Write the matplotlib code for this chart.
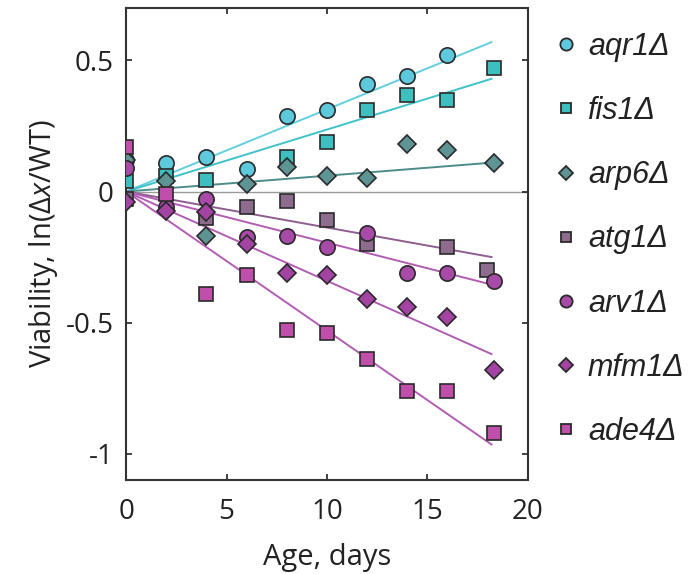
import matplotlib
matplotlib.use('Agg')
import matplotlib.pyplot as plt

plt.rcParams['font.family'] = ['Open Sans', 'DejaVu Sans']
plt.rcParams['axes.unicode_minus'] = False
plt.rcParams['mathtext.fontset'] = 'custom'
plt.rcParams['mathtext.it'] = 'Open Sans:italic'
plt.rcParams['mathtext.rm'] = 'Open Sans'

# strains
names = ['aqr1', 'fis1', 'arp6', 'atg1', 'arv1', 'mfm1', 'ade4']
markers = ['o', 's', 'D', 's', 'o', 'D', 's']
face = ['#5ec9dd', '#3dbfc0', '#5e9494', '#8d6c8e', '#a84aa8', '#a443a3', '#c04fab']
linecol = ['#62cfe0', '#40c2c8', '#4c8c8a', '#8e5e8e', '#b25db3', '#b25db3', '#b25db3']

days_aqr1 = [0, 2, 4, 6, 8, 10, 12, 14, 16]
v_aqr1 = [0.12, 0.11, 0.13, 0.085, 0.29, 0.31, 0.41, 0.44, 0.52]
days_fis1 = [0, 2, 4, 8, 10, 12, 14, 16, 18.3]
v_fis1 = [0.04, 0.06, 0.045, 0.13, 0.19, 0.31, 0.37, 0.35, 0.47]
days_arp6 = [0, 2, 4, 6, 8, 10, 12, 14, 16, 18.3]
v_arp6 = [0.12, 0.04, -0.17, 0.03, 0.095, 0.06, 0.05, 0.18, 0.16, 0.11]
days_atg1 = [0, 4, 6, 8, 10, 12, 16, 18]
v_atg1 = [-0.03, -0.10, -0.06, -0.035, -0.11, -0.20, -0.21, -0.30]
days_arv1 = [0, 2, 4, 6, 8, 10, 12, 14, 16, 18.3]
v_arv1 = [0.09, -0.06, -0.03, -0.175, -0.17, -0.21, -0.16, -0.31, -0.31, -0.34]
days_mfm1 = [0, 2, 4, 6, 8, 10, 12, 14, 16, 18.3]
v_mfm1 = [-0.04, -0.075, -0.08, -0.2, -0.31, -0.32, -0.41, -0.44, -0.48, -0.68]
days_ade4 = [0, 2, 4, 6, 8, 10, 12, 14, 16, 18.3]
v_ade4 = [0.17, -0.01, -0.39, -0.32, -0.53, -0.54, -0.64, -0.76, -0.76, -0.92]

# fitted lines through origin: value at end of fit range
fit_x = [0, 18.2]
fit_end = [0.57, 0.43, 0.11, -0.25, -0.355, -0.62, -0.965]

days = [days_aqr1, days_fis1, days_arp6, days_atg1, days_arv1, days_mfm1, days_ade4]
vals = [v_aqr1, v_fis1, v_arp6, v_atg1, v_arv1, v_mfm1, v_ade4]

fig = plt.figure(figsize=(6.97, 5.74), dpi=100)
ax = fig.add_axes([0.181, 0.164, 0.576, 0.822])

ax.axhline(0, color='#9a9a9a', lw=1.0, zorder=1)
for i in range(len(names)):
    ax.plot(fit_x, [0, fit_end[i]], color=linecol[i], lw=1.4, zorder=2)

handles = []
for i in range(len(names)):
    ms = 11 if markers[i] == 'o' else (9.5 if markers[i] == 's' else 9)
    ax.plot(days[i], vals[i], linestyle='none', marker=markers[i], ms=ms,
            mfc=face[i], mec='#2a2a2a', mew=1.2, zorder=3 + i)
    h, = ax.plot([], [], linestyle='none', marker=markers[i],
                 ms=ms * 0.8, mfc=face[i], mec='#2a2a2a', mew=1.3,
                 label=names[i] + 'Δ')
    handles.append(h)

ax.set_xlim(0, 20)
ax.set_ylim(-1.1, 0.7)
ax.set_xticks([0, 5, 10, 15, 20])
ax.set_yticks([-1, -0.5, 0, 0.5])
ax.set_yticklabels(['-1', '-0.5', '0', '0.5'])
ax.tick_params(direction='in', length=4, width=1.2, top=True, right=True,
               labelsize=20, colors='#222222')
ax.tick_params(axis='x', pad=13)
ax.tick_params(axis='y', pad=9)
for s in ax.spines.values():
    s.set_linewidth(1.5)
    s.set_color('#333333')

ax.set_xlabel('Age, days', fontsize=21, color='#222222', labelpad=12)
ax.set_ylabel(r'Viability, ln(Δ$\it{x}$/WT)', fontsize=21, color='#222222',
              labelpad=4)

leg = ax.legend(handles=handles, loc='upper left', bbox_to_anchor=(1.013, 0.995),
                frameon=False, labelspacing=1.12,
                prop={'family': 'Liberation Sans', 'style': 'italic', 'size': 22},
                handletextpad=0.3, handlelength=0.8, borderaxespad=0.3)
for t in leg.get_texts():
    t.set_color('#222222')

fig.savefig('out.png', dpi=100)
